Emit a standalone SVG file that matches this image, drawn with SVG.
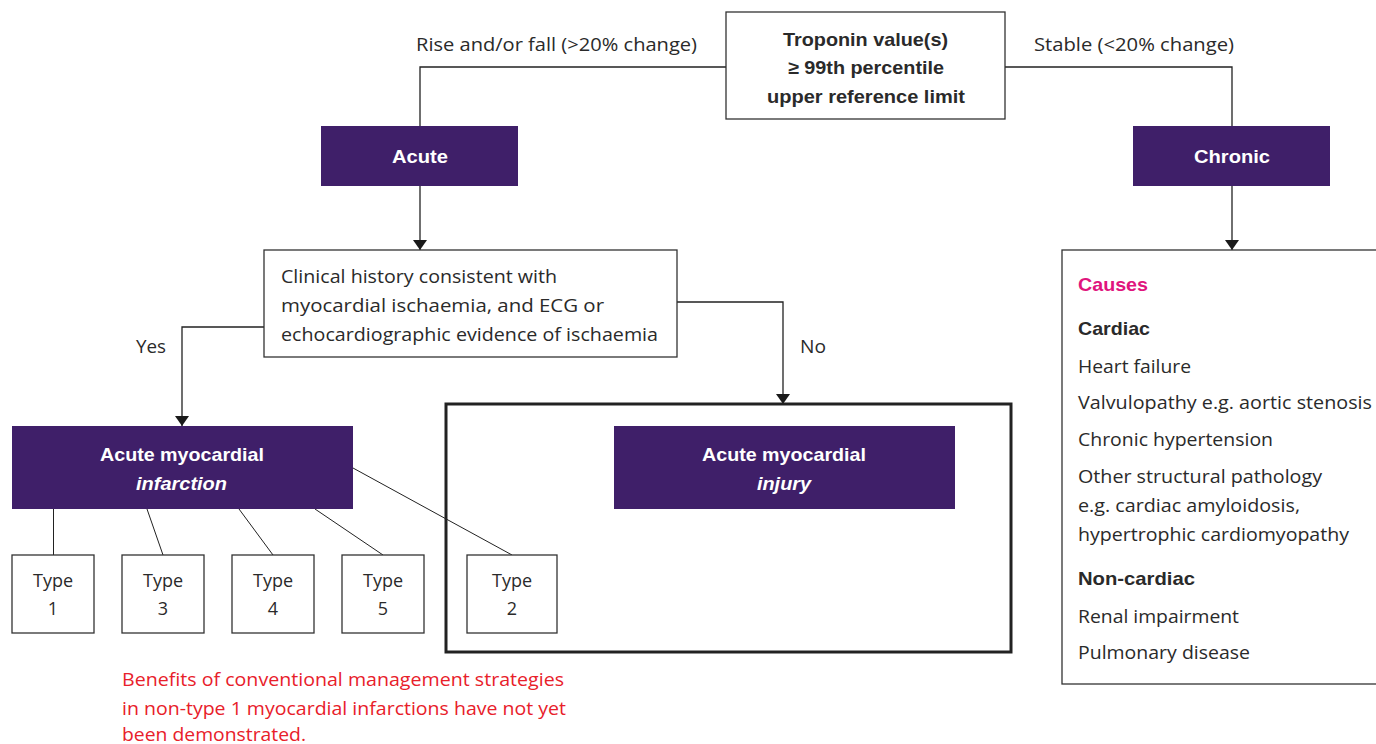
<svg xmlns="http://www.w3.org/2000/svg" width="1376" height="744" viewBox="0 0 1376 744">
<defs>
<marker id="arr" viewBox="0 0 10 14" refX="10" refY="7" markerWidth="10" markerHeight="14" markerUnits="userSpaceOnUse" orient="auto">
<path d="M0,0 L10,7 L0,14 Z" fill="#1a1a1a"/>
</marker>
<style>
.box{fill:#fff;stroke:#333;stroke-width:1.3}
.purple{fill:#3f1f69}
.t{font-family:"Open Sans","Liberation Sans",Arial,sans-serif;font-size:18px;fill:#2a2a2a}
.b{font-family:"Liberation Sans",Arial,sans-serif;font-weight:bold;font-size:18.5px}
.w{fill:#fff}
.c{text-anchor:middle}
.red{fill:#e8202a}
.pink{fill:#e0147d}
.conn{fill:none;stroke:#222;stroke-width:1.3}
.thin{fill:none;stroke:#222;stroke-width:1}
</style>
</defs>
<rect width="1376" height="744" fill="#fff"/>
<g id="connectors">
<polyline class="conn" points="726,67 420,67 420,126"/>
<polyline class="conn" points="1005,67 1232,67 1232,126"/>
<line class="conn" x1="420" y1="186" x2="420" y2="250" marker-end="url(#arr)"/>
<polyline class="conn" points="264,327 182,327 182,426" marker-end="url(#arr)"/>
<polyline class="conn" points="677,302 783,302 783,404" marker-end="url(#arr)"/>
<line class="conn" x1="1232" y1="186" x2="1232" y2="250" marker-end="url(#arr)"/>
<line class="thin" x1="53.5" y1="509" x2="53.5" y2="555"/>
<line class="thin" x1="147" y1="509" x2="163" y2="555"/>
<line class="thin" x1="239" y1="509" x2="273" y2="555"/>
<line class="thin" x1="315" y1="509" x2="383" y2="555"/>
<line class="thin" x1="353" y1="468" x2="512" y2="555"/>
</g>
<g id="label-rise"><text class="t" x="416" y="51" textLength="281" lengthAdjust="spacingAndGlyphs">Rise and/or fall (&gt;20% change)</text></g>
<g id="label-stable"><text class="t" x="1034" y="51" textLength="200" lengthAdjust="spacingAndGlyphs">Stable (&lt;20% change)</text></g>
<g id="label-yes"><text class="t" x="136" y="353" textLength="30" lengthAdjust="spacingAndGlyphs">Yes</text></g>
<g id="label-no"><text class="t" x="800" y="353" textLength="26" lengthAdjust="spacingAndGlyphs">No</text></g>
<g id="troponin">
<rect class="box" x="726" y="12" width="279" height="107"/>
<text class="t b" x="783" y="46" textLength="165" lengthAdjust="spacingAndGlyphs">Troponin value(s)</text>
<text class="t b" x="788" y="74" textLength="156" lengthAdjust="spacingAndGlyphs">≥ 99th percentile</text>
<text class="t b" x="767" y="103" textLength="198" lengthAdjust="spacingAndGlyphs">upper reference limit</text>
</g>
<g id="acute">
<rect class="purple" x="321" y="126" width="197" height="60"/>
<text class="t b w" x="392" y="163" textLength="56" lengthAdjust="spacingAndGlyphs">Acute</text>
</g>
<g id="chronic">
<rect class="purple" x="1133" y="126" width="197" height="60"/>
<text class="t b w" x="1194" y="163" textLength="76" lengthAdjust="spacingAndGlyphs">Chronic</text>
</g>
<g id="clinical">
<rect class="box" x="264" y="250" width="413" height="107"/>
<text class="t" x="281" y="283" textLength="276" lengthAdjust="spacingAndGlyphs">Clinical history consistent with</text>
<text class="t" x="281" y="312" textLength="323" lengthAdjust="spacingAndGlyphs">myocardial ischaemia, and ECG or</text>
<text class="t" x="281" y="341" textLength="377" lengthAdjust="spacingAndGlyphs">echocardiographic evidence of ischaemia</text>
</g>
<g id="injury-frame">
<rect x="446" y="404" width="565" height="248" fill="none" stroke="#222" stroke-width="3"/>
</g>
<g id="ami">
<rect class="purple" x="12" y="426" width="341" height="83"/>
<text class="t b w" x="100" y="461" textLength="164" lengthAdjust="spacingAndGlyphs">Acute myocardial</text>
<text class="t b w" x="136" y="490" font-style="italic" textLength="91" lengthAdjust="spacingAndGlyphs">infarction</text>
</g>
<g id="injury">
<rect class="purple" x="614" y="426" width="341" height="83"/>
<text class="t b w" x="702" y="461" textLength="164" lengthAdjust="spacingAndGlyphs">Acute myocardial</text>
<text class="t b w" x="757" y="490" font-style="italic" textLength="54" lengthAdjust="spacingAndGlyphs">injury</text>
</g>
<g id="type1"><rect class="box" x="12" y="555" width="82" height="78"/><text class="t c" x="53" y="587">Type</text><text class="t c" x="53" y="615">1</text></g>
<g id="type3"><rect class="box" x="122" y="555" width="82" height="78"/><text class="t c" x="163" y="587">Type</text><text class="t c" x="163" y="615">3</text></g>
<g id="type4"><rect class="box" x="232" y="555" width="82" height="78"/><text class="t c" x="273" y="587">Type</text><text class="t c" x="273" y="615">4</text></g>
<g id="type5"><rect class="box" x="342" y="555" width="82" height="78"/><text class="t c" x="383" y="587">Type</text><text class="t c" x="383" y="615">5</text></g>
<g id="type2"><rect class="box" x="467" y="555" width="90" height="78"/><text class="t c" x="512" y="587">Type</text><text class="t c" x="512" y="615">2</text></g>
<g id="note">
<text class="t red" x="122" y="686" textLength="442" lengthAdjust="spacingAndGlyphs">Benefits of conventional management strategies</text>
<text class="t red" x="122" y="715" textLength="444" lengthAdjust="spacingAndGlyphs">in non-type 1 myocardial infarctions have not yet</text>
<text class="t red" x="122" y="741" textLength="184" lengthAdjust="spacingAndGlyphs">been demonstrated.</text>
</g>
<g id="causes">
<rect class="box" x="1062" y="250" width="330" height="434"/>
<text class="t b pink" x="1078" y="291" textLength="70" lengthAdjust="spacingAndGlyphs">Causes</text>
<text class="t b" x="1078" y="335" textLength="72" lengthAdjust="spacingAndGlyphs">Cardiac</text>
<text class="t" x="1078" y="373" textLength="113" lengthAdjust="spacingAndGlyphs">Heart failure</text>
<text class="t" x="1078" y="409" textLength="294" lengthAdjust="spacingAndGlyphs">Valvulopathy e.g. aortic stenosis</text>
<text class="t" x="1078" y="446" textLength="195" lengthAdjust="spacingAndGlyphs">Chronic hypertension</text>
<text class="t" x="1078" y="483" textLength="244" lengthAdjust="spacingAndGlyphs">Other structural pathology</text>
<text class="t" x="1078" y="512" textLength="222" lengthAdjust="spacingAndGlyphs">e.g. cardiac amyloidosis,</text>
<text class="t" x="1078" y="541" textLength="271" lengthAdjust="spacingAndGlyphs">hypertrophic cardiomyopathy</text>
<text class="t b" x="1078" y="585" textLength="117" lengthAdjust="spacingAndGlyphs">Non-cardiac</text>
<text class="t" x="1078" y="623" textLength="161" lengthAdjust="spacingAndGlyphs">Renal impairment</text>
<text class="t" x="1078" y="659" textLength="172" lengthAdjust="spacingAndGlyphs">Pulmonary disease</text>
</g>
</svg>
